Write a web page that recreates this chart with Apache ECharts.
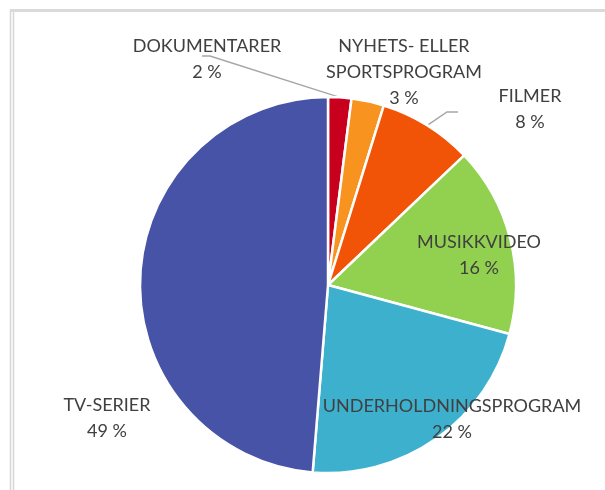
<!DOCTYPE html>
<html>
<head>
<meta charset="utf-8">
<script src="https://cdn.jsdelivr.net/npm/echarts@6/dist/echarts.min.js"></script>
<style>
  html, body { margin: 0; padding: 0; background: #fff; }
  #chart { width: 605px; height: 490px; }
</style>
</head>
<body>
<div id="chart"></div>
<script>
var categories = [
  "DOKUMENTARER",
  "NYHETS- ELLER\nSPORTSPROGRAM",
  "FILMER",
  "MUSIKKVIDEO",
  "UNDERHOLDNINGSPROGRAM",
  "TV-SERIER",
];
var shares = [2.0, 2.8, 8.1, 16.3, 22.1, 48.7];
var sliceColors = ["#C8001E", "#F7931E", "#F25407", "#92D050", "#3DB0CE", "#4653A6"];

// where each label block sits (center), and the bend of the leader lines
var labelSpots = [
  [207, 59],
  [404, 72],
  [530, 109],
  [479, 255],
  [452, 419],
  [107, 418],
];
var leaderBends = {
  0: [[210, 56], [202, 56]],
  2: [[447, 112], [458, 112]],
};

var chartDom = document.getElementById("chart");
var chart = echarts.init(chartDom);

var pieData = [];
for (var i = 0; i < categories.length; i++) {
  pieData.push({
    name: categories[i],
    value: shares[i],
    itemStyle: { color: sliceColors[i] },
    labelLine: { show: !!leaderBends[i] },
  });
}

var option = {
  animation: false,
  graphic: [
    { type: "line", shape: { x1: 10.5, y1: 10, x2: 10.5, y2: 490 }, style: { stroke: "#d6d6d6", lineWidth: 1.5 } },
    { type: "line", shape: { x1: 13.5, y1: 10, x2: 13.5, y2: 490 }, style: { stroke: "#d6d6d6", lineWidth: 1.5 } },
    { type: "line", shape: { x1: 10, y1: 10.5, x2: 605, y2: 10.5 }, style: { stroke: "#dadada", lineWidth: 3 } },
  ],
  series: [
    {
      type: "pie",
      center: [328, 285],
      radius: 188,
      startAngle: 90,
      clockwise: true,
      percentPrecision: 0,
      itemStyle: { borderColor: "#fff", borderWidth: 2.5 },
      label: {
        show: true,
        position: "outside",
        formatter: "{b}\n{d} %",
        fontFamily: "Lato",
        fontSize: 18,
        lineHeight: 26,
        color: "#404040",
        align: "center",
        overflow: "none",
        width: 400,
      },
      labelLine: {
        show: true,
        lineStyle: { color: "#a6a6a6", width: 1.5 },
      },
      labelLayout: function (params) {
        var spot = labelSpots[params.dataIndex];
        var out = {
          x: spot[0],
          y: spot[1],
          align: "center",
          verticalAlign: "middle",
        };
        var bend = leaderBends[params.dataIndex];
        if (bend && params.labelLinePoints) {
          out.labelLinePoints = [params.labelLinePoints[0], bend[0], bend[1]];
        }
        return out;
      },
      data: pieData,
    },
  ],
};

chart.setOption(option);
</script>
</body>
</html>
